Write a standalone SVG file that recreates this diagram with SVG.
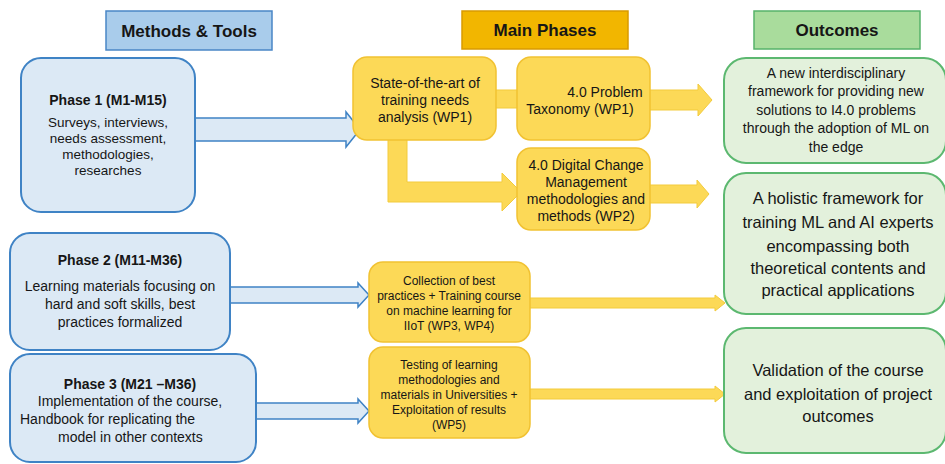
<svg xmlns="http://www.w3.org/2000/svg" width="945" height="464" viewBox="0 0 945 464">
<style>
text{font-family:"Liberation Sans",Arial,sans-serif;fill:#161616;text-anchor:middle}
.hdr{font-size:17px;font-weight:bold}
.t{font-weight:bold}
.bh{fill:#a9cceb;stroke:#4a86c6;stroke-width:1.5}
.yh{fill:#f2b600;stroke:#d99a00;stroke-width:1.5}
.gh{fill:#a9dc9c;stroke:#57b36a;stroke-width:1.5}
.bn{fill:#dce9f5;stroke:#3f83c5;stroke-width:2}
.yn{fill:#fcd957;stroke:#f1c232;stroke-width:1.5}
.gn{fill:#e3f1dc;stroke:#5cb870;stroke-width:2}
.ba{fill:#dce9f5;stroke:#3f83c5;stroke-width:1.5}
.ya{fill:#fcd957;stroke:#f3cb3c;stroke-width:1}
</style>
<rect width="945" height="464" fill="#ffffff"/>
<g id="headers">
<g id="h-methods"><rect class="bh" x="106" y="11" width="166" height="39"/><text class="hdr" x="189" y="37">Methods &amp; Tools</text></g>
<g id="h-main"><rect class="yh" x="462" y="11" width="166" height="38"/><text class="hdr" x="545" y="36">Main Phases</text></g>
<g id="h-outcomes"><rect class="gh" x="754" y="11" width="166" height="38"/><text class="hdr" x="837" y="36">Outcomes</text></g>
</g>
<g id="connectors">
<polygon class="ba" points="195,118 346,118 346,112 360,129.5 346,147 346,141 195,141"/>
<polygon class="ba" points="230,287 358,287 358,283 369,295 358,307 358,303 230,303"/>
<polygon class="ba" points="256,403 358,403 358,399 369,411 358,423 358,419 256,419"/>
<rect class="ya" x="494" y="90" width="24" height="18"/>
<polygon class="ya" points="388,138 407,138 407,182 502,182 502,173 521,192 502,211 502,202 388,202"/>
<polygon class="ya" points="648,90 698,90 698,84 712,100 698,116 698,110 648,110"/>
<polygon class="ya" points="648,185 697,185 697,180 709,194 697,208 697,203 648,203"/>
<polygon class="ya" points="528,298 715,298 715,295 725,303 715,311 715,308 528,308"/>
<polygon class="ya" points="528,389 715,389 715,386 725,394 715,402 715,399 528,399"/>
</g>
<g id="phase1"><rect class="bn" x="21" y="58" width="174" height="154" rx="20"/>
<text x="108" y="105" font-size="14" class="t">Phase 1 (M1-M15)</text>
<text x="108" y="127" font-size="13.5">Surveys, interviews,</text>
<text x="108" y="143" font-size="13.5">needs assessment,</text>
<text x="108" y="159" font-size="13.5">methodologies,</text>
<text x="108" y="175" font-size="13.5">researches</text></g>
<g id="phase2"><rect class="bn" x="10" y="233" width="220" height="117" rx="20"/>
<text x="120" y="265" font-size="14" class="t">Phase 2 (M11-M36)</text>
<text x="120" y="291" font-size="14">Learning materials focusing on</text>
<text x="120" y="309" font-size="14">hard and soft skills, best</text>
<text x="120" y="327" font-size="14">practices formalized</text></g>
<g id="phase3"><rect class="bn" x="10" y="354" width="246" height="108" rx="20"/>
<text x="130" y="389" font-size="14" class="t">Phase 3 (M21 –M36)</text>
<text x="130" y="406" font-size="14">Implementation of the course,</text>
<text x="20" y="424" font-size="14" style="text-anchor:start">Handbook for replicating the</text>
<text x="58" y="442" font-size="14" style="text-anchor:start">model in other contexts</text></g>
<g id="wp1-state"><rect class="yn" x="353" y="57" width="143" height="83" rx="14"/>
<text x="425" y="88" font-size="14">State-of-the-art of</text>
<text x="425" y="105" font-size="14">training needs</text>
<text x="425" y="122" font-size="14">analysis (WP1)</text></g>
<g id="wp1-taxonomy"><rect class="yn" x="517" y="57" width="133" height="83" rx="14"/>
<text x="605" y="97" font-size="14">4.0 Problem</text>
<text x="580" y="114" font-size="14">Taxonomy (WP1)</text></g>
<g id="wp2"><rect class="yn" x="517" y="148" width="133" height="82" rx="14"/>
<text x="586" y="170" font-size="14">4.0 Digital Change</text>
<text x="586" y="187" font-size="14">Management</text>
<text x="586" y="204" font-size="14">methodologies and</text>
<text x="586" y="221" font-size="14">methods (WP2)</text></g>
<g id="wp3-4"><rect class="yn" x="369" y="262" width="161" height="80" rx="14"/>
<text x="449" y="285" font-size="12">Collection of best</text>
<text x="449" y="300" font-size="12">practices + Training course</text>
<text x="449" y="315" font-size="12">on machine learning for</text>
<text x="449" y="330" font-size="12">IIoT (WP3, WP4)</text></g>
<g id="wp5"><rect class="yn" x="369" y="347" width="161" height="91" rx="14"/>
<text x="449" y="369" font-size="12">Testing of learning</text>
<text x="449" y="384" font-size="12">methodologies and</text>
<text x="449" y="399" font-size="12">materials in Universities +</text>
<text x="449" y="414" font-size="12">Exploitation of results</text>
<text x="449" y="429" font-size="12">(WP5)</text></g>
<g id="outcome1"><rect class="gn" x="724" y="58" width="222" height="105" rx="22"/>
<text x="836" y="78" font-size="14">A new interdisciplinary</text>
<text x="836" y="96" font-size="14">framework for providing new</text>
<text x="836" y="115" font-size="14">solutions to I4.0 problems</text>
<text x="836" y="133" font-size="14">through the adoption of ML on</text>
<text x="836" y="152" font-size="14">the edge</text></g>
<g id="outcome2"><rect class="gn" x="724" y="173" width="222" height="141" rx="22"/>
<text x="838" y="204" font-size="16.5">A holistic framework for</text>
<text x="838" y="228" font-size="16.5">training ML and AI experts</text>
<text x="838" y="252" font-size="16.5">encompassing both</text>
<text x="838" y="274" font-size="16.5">theoretical contents and</text>
<text x="838" y="296" font-size="16.5">practical applications</text></g>
<g id="outcome3"><rect class="gn" x="724" y="328" width="222" height="125" rx="22"/>
<text x="838" y="376" font-size="16.5">Validation of the course</text>
<text x="838" y="400" font-size="16.5">and exploitation of project</text>
<text x="838" y="422" font-size="16.5">outcomes</text></g>
</svg>
